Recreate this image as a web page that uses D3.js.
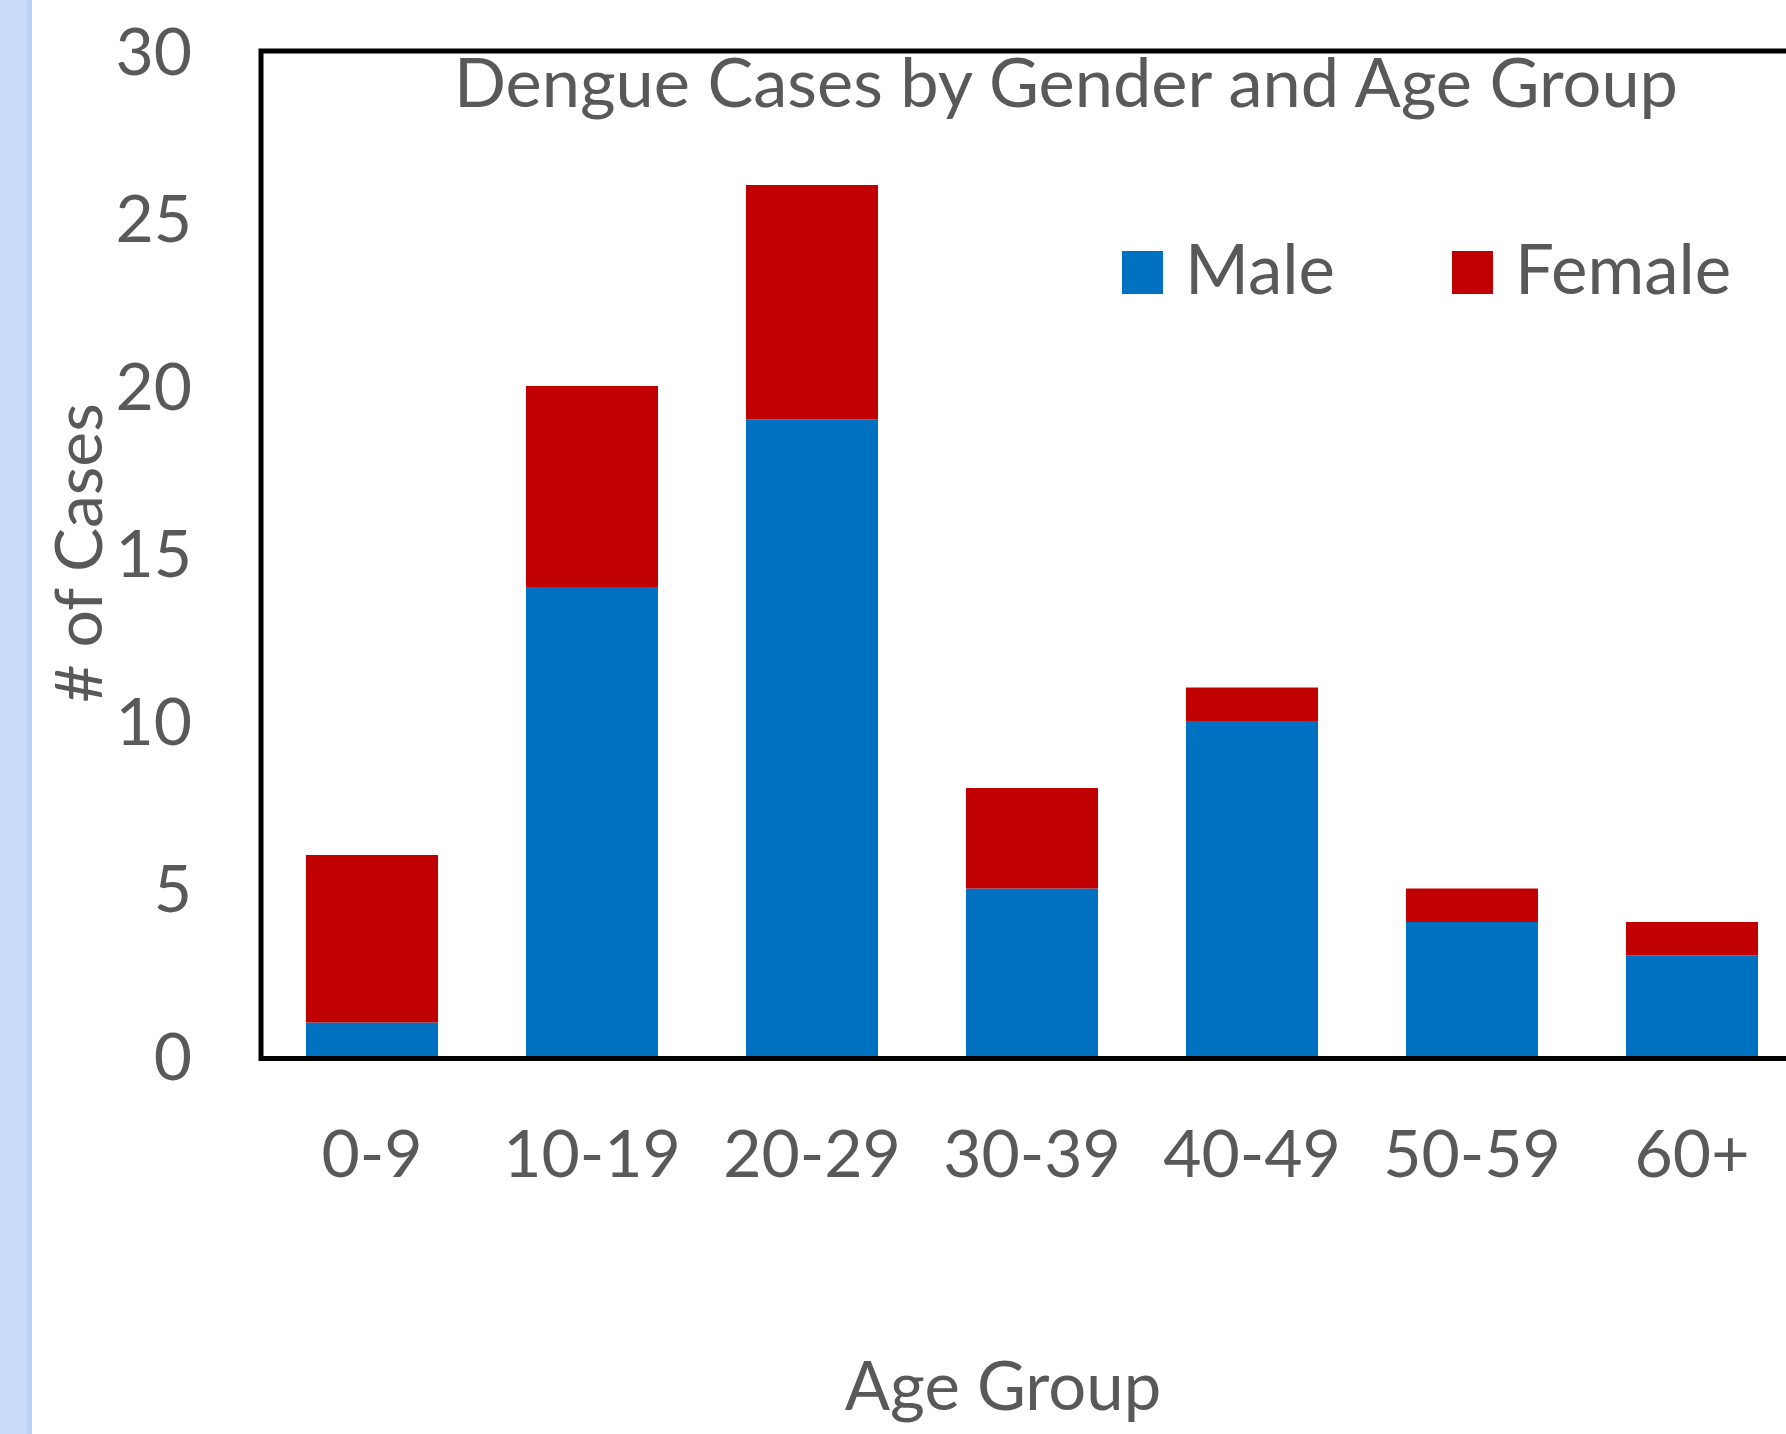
<!DOCTYPE html>
<html>
<head>
<meta charset="utf-8">
<script src="https://cdn.jsdelivr.net/npm/d3@7"></script>
<style>
  html, body { margin: 0; padding: 0; background: #fff; }
  svg { display: block; }
  text { font-family: Lato, "Open Sans", sans-serif; fill: #595959; }
</style>
</head>
<body>
<div id="chart"></div>
<script>
// data
var ageGroups = ['0-9', '10-19', '20-29', '30-39', '40-49', '50-59', '60+']
var maleCases = [1, 14, 19, 5, 10, 4, 3]
var femaleCases = [5, 6, 7, 3, 1, 1, 1]
var seriesNames = ['Male', 'Female']
var seriesColors = ['#0070C0', '#C00000']
var yTicks = [0, 5, 10, 15, 20, 25, 30]

var W = 1786, H = 1434
var fontSize = 66

var svg = d3.select('#chart').append('svg')
    .attr('width', W)
    .attr('height', H)

// pale blue strip on the left edge
svg.append('rect').attr('x', 0).attr('y', 0).attr('width', 27).attr('height', H).attr('fill', '#c9ddf9')
svg.append('rect').attr('x', 27).attr('y', 0).attr('width', 5).attr('height', H).attr('fill', '#b8d2f8')

// plot area: runs off the right side of the picture
var plot = { left: 262, top: 51, bottom: 1056 }
var step = 220

var x = d3.scaleBand()
    .domain(ageGroups)
    .range([plot.left, plot.left + step * ageGroups.length])
    .paddingInner(0.4)
    .paddingOuter(0.2)

var y = d3.scaleLinear()
    .domain([0, 30])
    .range([plot.bottom, plot.top])

var table = ageGroups.map((g, i) => ({ group: g, Male: maleCases[i], Female: femaleCases[i] }))
var stacked = d3.stack().keys(seriesNames)(table)

var color = d3.scaleOrdinal().domain(seriesNames).range(seriesColors)

svg.append('g')
    .selectAll('g')
    .data(stacked)
    .join('g')
    .attr('fill', d => color(d.key))
    .selectAll('rect')
    .data(d => d)
    .join('rect')
    .attr('x', d => x(d.data.group))
    .attr('y', d => y(d[1]))
    .attr('width', x.bandwidth())
    .attr('height', d => y(d[0]) - y(d[1]))

// thin grey category axis line under the bars
svg.append('line')
    .attr('x1', plot.left).attr('x2', W)
    .attr('y1', y(0) + 0.5).attr('y2', y(0) + 0.5)
    .attr('stroke', '#bfbfbf').attr('stroke-width', 1)

// black frame
svg.append('path')
    .attr('d', 'M' + W + ',' + plot.top + 'H' + (plot.left - 1) + 'V' + (plot.bottom + 2.5) + 'H' + W)
    .attr('fill', 'none')
    .attr('stroke', '#000')
    .attr('stroke-width', 5)

// y axis labels
var yAxis = svg.append('g')
    .attr('transform', 'translate(192,0)')
    .call(d3.axisLeft(y).tickValues(yTicks).tickSize(0).tickPadding(0))
yAxis.select('.domain').remove()
yAxis.selectAll('text')
    .attr('font-size', fontSize)
    .attr('font-family', 'Lato, sans-serif')
    .attr('fill', '#595959')
    .attr('dy', '0.35em')

// x axis labels
var xAxis = svg.append('g')
    .attr('transform', 'translate(0,1177)')
    .call(d3.axisBottom(x).tickSize(0).tickPadding(0))
xAxis.select('.domain').remove()
xAxis.selectAll('text')
    .attr('y', 0)
    .attr('dy', 0)
    .attr('font-size', fontSize)
    .attr('font-family', 'Lato, sans-serif')
    .attr('fill', '#595959')

// titles
svg.append('text')
    .attr('x', 1066)
    .attr('y', 107)
    .attr('text-anchor', 'middle')
    .attr('font-size', 68.5)
    .text('Dengue Cases by Gender and Age Group')

svg.append('text')
    .attr('x', 1003)
    .attr('y', 1410)
    .attr('text-anchor', 'middle')
    .attr('font-size', 67)
    .text('Age Group')

svg.append('text')
    .attr('transform', 'translate(102,553) rotate(-90)')
    .attr('text-anchor', 'middle')
    .attr('font-size', fontSize)
    .text('# of Cases')

// legend
var legendX = [1122, 1452]
var legend = svg.append('g')
    .selectAll('g')
    .data(seriesNames)
    .join('g')
    .attr('transform', (d, i) => 'translate(' + legendX[i] + ',251)')

legend.append('rect')
    .attr('width', 41)
    .attr('height', 43)
    .attr('fill', d => color(d))

legend.append('text')
    .attr('x', 63)
    .attr('y', 43)
    .attr('font-size', 69)
    .text(d => d)
</script>
</body>
</html>
